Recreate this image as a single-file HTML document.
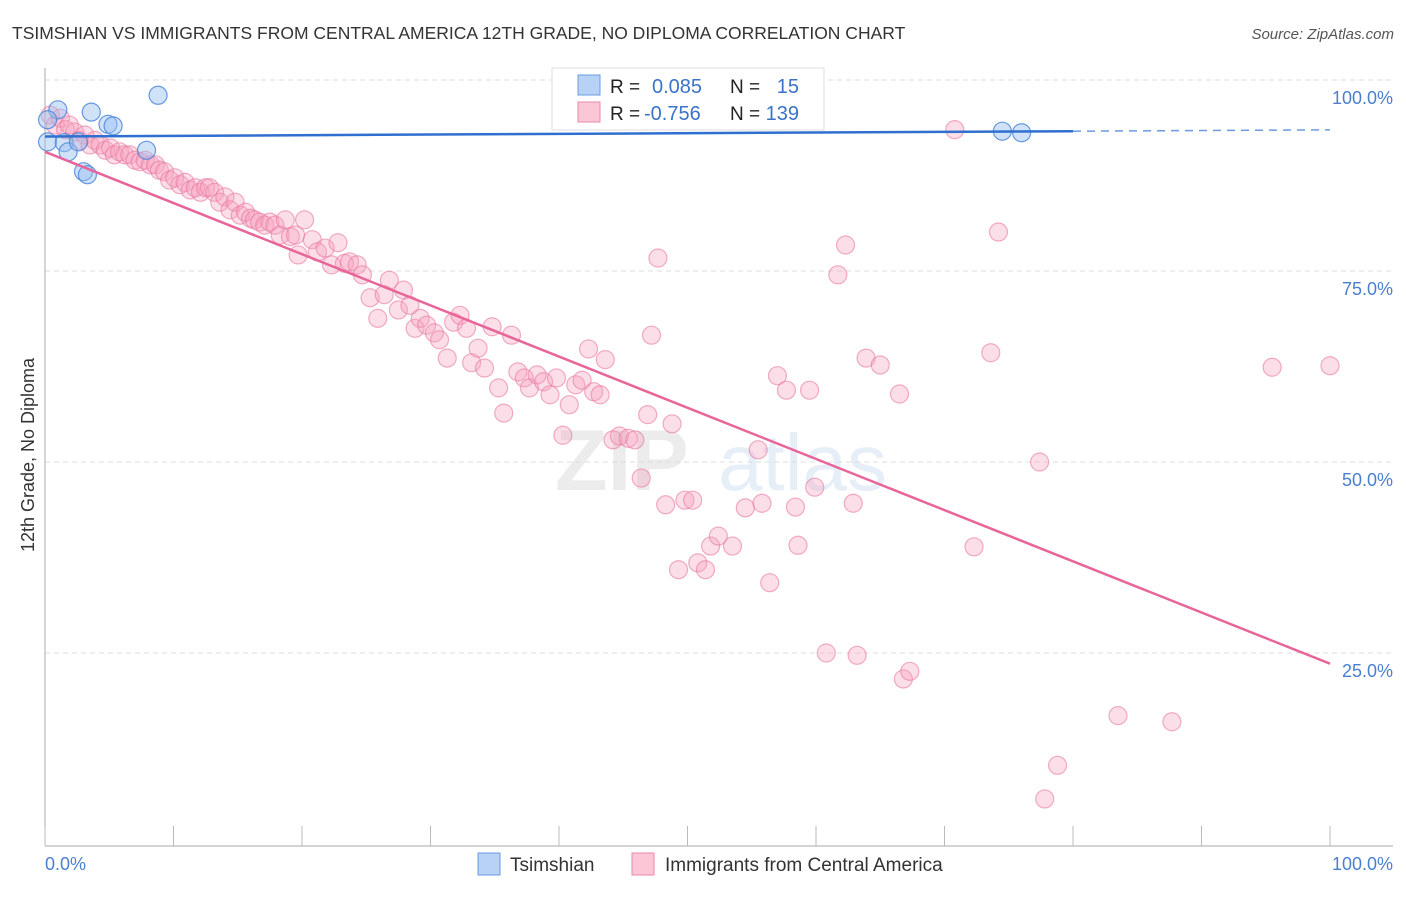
<!DOCTYPE html>
<html><head><meta charset="utf-8"><style>
body{margin:0;background:#fff;font-family:"Liberation Sans",sans-serif;}
svg text{font-family:"Liberation Sans",sans-serif;}
</style></head><body>
<svg id="chart" width="1406" height="892" viewBox="0 0 1406 892" xmlns="http://www.w3.org/2000/svg">
<text x="12" y="39" font-size="17.5" fill="#333">TSIMSHIAN VS IMMIGRANTS FROM CENTRAL AMERICA 12TH GRADE, NO DIPLOMA CORRELATION CHART</text>
<text x="1394" y="39" font-size="15" fill="#555" font-style="italic" text-anchor="end">Source: ZipAtlas.com</text>
<g opacity="0.13">
<text x="555" y="490" font-size="86" fill="#777" font-family="Liberation Serif" font-weight="bold">ZIP</text>
<text x="718" y="490" font-size="80" fill="#4a7fd0">atlas</text>
</g>
<g id="grid"></g>
<g id="axes"></g>
<g id="pink"></g>
<g id="blue"></g>
<g id="lines"></g>
<text transform="translate(34,455) rotate(-90)" font-size="18" fill="#333" text-anchor="middle">12th Grade, No Diploma</text>
<g>
<rect x="552" y="68" width="272" height="62" fill="#fff" stroke="#ddd"/>
<rect x="578" y="75" width="22" height="20" fill="#b8d2f5" stroke="#6a9be0"/>
<rect x="578" y="102" width="22" height="20" fill="#fbc6d6" stroke="#e88aa8"/>
<text x="610" y="93" font-size="19" fill="#222">R =</text>
<text x="652" y="93" font-size="20" fill="#3b73c8">0.085</text>
<text x="730" y="93" font-size="19" fill="#222">N =</text>
<text x="799" y="93" font-size="20" fill="#3b73c8" text-anchor="end">15</text>
<text x="610" y="120" font-size="19" fill="#222">R =</text>
<text x="644" y="120" font-size="20" fill="#3b73c8">-0.756</text>
<text x="730" y="120" font-size="19" fill="#222">N =</text>
<text x="799" y="120" font-size="20" fill="#3b73c8" text-anchor="end">139</text>
</g>
<g>
<rect x="478" y="853" width="22" height="22" fill="#b8d2f5" stroke="#6a9be0"/>
<text x="510" y="871" font-size="19" fill="#333">Tsimshian</text>
<rect x="632" y="853" width="22" height="22" fill="#fbc6d6" stroke="#e88aa8"/>
<text x="665" y="871" font-size="19" fill="#333">Immigrants from Central America</text>
</g>
</svg>
<script>
const blueX=[0.2,1.0,0.2,1.5,1.8,3.6,2.6,4.9,5.3,3.0,3.3,7.9,8.8,74.5,76.0];
const blueY=[91.9,96.1,94.8,91.8,90.6,95.8,91.9,94.2,94.0,88.0,87.6,90.8,98.0,93.3,93.1];
const pinkX=[0.4,0.8,1.2,1.6,1.9,2.3,2.7,3.1,3.5,3.9,4.3,4.7,5.1,5.4,5.8,6.2,6.6,7.0,7.4,7.8,8.2,8.6,8.9,9.3,9.7,10.1,10.5,10.9,11.3,11.7,12.1,12.5,12.8,13.2,13.6,14.0,14.4,14.8,15.2,15.6,16.0,16.3,16.7,17.1,17.5,17.9,18.3,18.7,19.1,19.5,19.7,20.2,20.8,21.2,21.8,22.3,22.8,23.3,23.7,24.3,24.7,25.3,25.9,26.4,26.8,27.5,27.9,28.4,28.8,29.2,29.7,30.3,30.7,31.3,31.8,32.3,32.8,33.2,33.7,34.2,34.8,35.3,35.7,36.3,36.8,37.3,37.7,38.3,38.8,39.3,39.8,40.3,40.8,41.3,41.8,42.3,42.7,43.2,43.6,44.2,44.7,45.4,45.9,46.4,46.9,47.2,47.7,48.3,48.8,49.3,49.8,50.4,50.8,51.4,51.8,52.4,53.5,54.5,55.5,55.8,56.4,57.0,57.7,58.4,58.6,59.5,59.9,60.8,61.7,62.3,62.9,63.2,63.9,65.0,66.5,66.8,67.3,70.8,72.3,73.6,74.2,77.4,77.8,78.8,83.5,87.7,95.5,100,54.1];
const pinkY=[95.4,94.1,95.0,93.5,94.1,93.2,92.1,92.8,91.5,92.1,91.5,90.8,91.1,90.2,90.6,90.2,90.2,89.5,89.3,89.5,88.9,88.9,88.2,88.0,86.9,87.2,86.3,86.6,85.6,85.9,85.3,85.9,85.9,85.3,84.0,84.7,83.0,84.0,82.3,82.7,81.9,81.7,81.4,81.0,81.4,81.0,79.7,81.7,79.5,79.7,77.1,81.7,79.1,77.5,78.0,75.8,78.7,76.0,76.2,75.8,74.5,71.5,68.8,71.9,73.8,69.9,72.5,70.5,67.5,68.8,67.9,66.9,66.0,63.6,68.3,69.2,67.5,63.0,64.9,62.3,67.7,59.7,56.4,66.6,61.8,61.0,59.7,61.4,60.5,58.8,61.0,53.5,57.5,60.1,60.7,64.8,59.2,58.8,63.4,52.9,53.4,53.1,52.9,47.9,56.2,66.6,76.7,44.4,55.0,35.9,45.0,45.0,36.8,35.9,39.0,40.3,39.0,44.0,51.6,44.6,34.2,61.3,59.4,44.1,39.1,59.4,46.7,25.0,74.5,78.4,44.6,24.7,63.6,62.7,58.9,21.6,22.6,93.5,38.9,64.3,80.1,50.0,5.9,10.3,16.8,16.0,62.4,62.6,100];
const blueTrend=[92.6,93.3];   // y at x=0 and x=80
const pinkTrend=[90.6,23.6];   // y at x=0 and x=100
const yTicks=[25,50,75,100];
const yTickLabels=["25.0%","50.0%","75.0%","100.0%"];
const xTicks=[0,10,20,30,40,50,60,70,80,90,100];

const NS="http://www.w3.org/2000/svg";
const X=v=>45+v*12.85;
const Y=v=>844-v*7.64;
function mk(tag,attrs,parent){const e=document.createElementNS(NS,tag);for(const k in attrs)e.setAttribute(k,attrs[k]);parent.appendChild(e);return e;}
const grid=document.getElementById('grid'),axes=document.getElementById('axes');
yTicks.forEach((t,i)=>{
  const l=mk('line',{x1:45,x2:1393,y1:Y(t),y2:Y(t),stroke:'#ddd','stroke-dasharray':'5,4'},grid);
  
  
  const tx=mk('text',{x:1393,y:Y(t)+24,'font-size':18,fill:'#4a7fd0','text-anchor':'end'},axes);
  tx.textContent=yTickLabels[i];
  
  
});
const ya=mk('line',{x1:45,x2:45,y1:68,y2:846,stroke:'#aaa'},axes);


const xa=mk('line',{x1:45,x2:1393,y1:846,y2:846,stroke:'#aaa'},axes);


xTicks.forEach(t=>{
  const l=mk('line',{x1:X(t),x2:X(t),y1:826,y2:846,stroke:'#bbb'},axes);
  
  
});
const x0=mk('text',{x:45,y:870,'font-size':18,fill:'#4a7fd0'},axes);x0.textContent="0.0%";


const x1=mk('text',{x:1393,y:870,'font-size':18,fill:'#4a7fd0','text-anchor':'end'},axes);x1.textContent="100.0%";



const pg=document.getElementById('pink');
pinkX.forEach((v,i)=>{
  const c=mk('circle',{cx:X(v),cy:Y(pinkY[i]),r:9,fill:'rgba(246,160,190,0.35)',stroke:'rgba(232,120,160,0.6)','stroke-width':1.2},pg);
  
  
});
const bg=document.getElementById('blue');
blueX.forEach((v,i)=>{
  const c=mk('circle',{cx:X(v),cy:Y(blueY[i]),r:9,fill:'rgba(150,190,240,0.45)',stroke:'rgba(70,130,215,0.8)','stroke-width':1.2},bg);
  
  
});
const lg=document.getElementById('lines');
const slope=(blueTrend[1]-blueTrend[0])/80;
const b1=mk('line',{x1:X(0),y1:Y(blueTrend[0]),x2:X(80),y2:Y(blueTrend[1]),stroke:'#2f6fd0','stroke-width':2.5},lg);


const b2=mk('line',{x1:X(80),y1:Y(blueTrend[1]),x2:X(100),y2:Y(blueTrend[0]+slope*100),stroke:'#6a9be0','stroke-width':1.5,'stroke-dasharray':'8,6'},lg);


const p1=mk('line',{x1:X(0),y1:Y(pinkTrend[0]),x2:X(100),y2:Y(pinkTrend[1]),stroke:'#e8659a','stroke-width':2.5},lg);


</script>
</body></html>
